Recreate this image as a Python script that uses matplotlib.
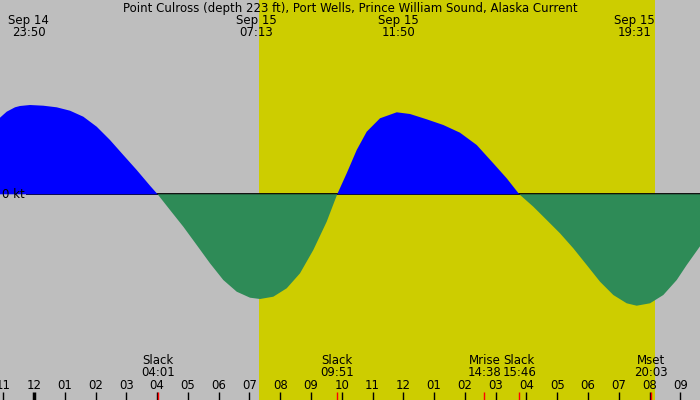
import numpy as np
import matplotlib.pyplot as plt
import matplotlib.transforms as mtransforms

# hours after Sep 15 00:00, current in knots (flood +, ebb -)
hours = [-1.105, -0.887, -0.617, -0.455, -0.13, 0.302, 0.737, 1.17, 1.602, 2.037, 2.469, 2.901,
         3.337, 3.769, 4.017,
         4.419, 4.851, 5.286, 5.718, 6.15, 6.586, 7.018, 7.343, 7.775, 8.21, 8.642, 9.074, 9.509,
         9.85,
         10.159, 10.484, 10.809, 11.241, 11.784, 12.216, 12.758, 13.298, 13.84, 14.383, 14.922,
         15.357, 15.767,
         16.222, 16.657, 17.089, 17.521, 17.957, 18.389, 18.821, 19.256, 19.581, 20.013, 20.445,
         20.881, 21.205, 21.637]
speed = [0.766, 0.826, 0.870, 0.883, 0.893, 0.886, 0.870, 0.836, 0.776, 0.676, 0.543, 0.393,
         0.243, 0.086, 0.0,
         -0.157, -0.324, -0.507, -0.690, -0.857, -0.974, -1.034, -1.047, -1.024, -0.940, -0.790,
         -0.557, -0.274,
         0.0,
         0.210, 0.443, 0.626, 0.760, 0.820, 0.803, 0.750, 0.693, 0.616, 0.493, 0.310,
         0.160, 0.0,
         -0.124, -0.257, -0.390, -0.540, -0.707, -0.874, -1.007, -1.090, -1.114, -1.090, -1.007,
         -0.857, -0.707, -0.520]

sunrise = 7.32
sunset = 20.19

peak_hours = [-0.17, 7.217, 11.83, 19.517]
peak_labels = ["Sep 14\n23:50", "Sep 15\n07:13", "Sep 15\n11:50", "Sep 15\n19:31"]

event_hours = [4.017, 9.85, 14.633, 15.767, 20.05]
event_labels = ["Slack\n04:01", "Slack\n09:51", "Mrise\n14:38", "Slack\n15:46", "Mset\n20:03"]

tick_hours = list(range(-1, 22))
tick_labels = ["%02d" % ((h - 1) % 12 + 1) for h in tick_hours]

title = "Point Culross (depth 223 ft), Port Wells, Prince William Sound, Alaska Current"

gray = "#bebebe"
yellow = "#cdcd00"
blue = "#0000ff"
green = "#2e8b57"

fig = plt.figure(figsize=(7, 4), dpi=100, facecolor=gray)
ax = fig.add_axes([0, 0, 1, 1])
ax.set_xlim(-1.1046, 21.637)
ax.set_ylim(-2.057, 1.943)
ax.axis("off")

ax.axvspan(sunrise, sunset, color=yellow, lw=0, zorder=0)

t = np.array(hours)
v = np.array(speed)
ax.hlines(0, -0.26, 21.7, color="black", lw=1.3, zorder=1)
ax.fill_between(t, 0, v, where=v >= 0, color=blue, lw=0, zorder=2)
ax.fill_between(t, 0, v, where=v <= 0, color=green, lw=0, zorder=3)

ax.text(-1.04, 0, "0 kt", fontsize=8.5, ha="left", va="center", zorder=4)

trans = mtransforms.blended_transform_factory(ax.transData, ax.transAxes)
ax.text(0.5, 0.995, title, transform=ax.transAxes, fontsize=8.5, ha="center", va="top")

for h, lab in zip(peak_hours, peak_labels):
    ax.text(h, 0.965, lab, transform=trans, fontsize=8.5, ha="center", va="top",
            linespacing=0.95)

for h, lab in zip(event_hours, event_labels):
    ax.text(h, 0.052, lab, transform=trans, fontsize=8.5, ha="center", va="bottom",
            linespacing=0.95)

for h, lab in zip(tick_hours, tick_labels):
    ax.text(h, 0.037, lab, transform=trans, fontsize=8.5, ha="center", va="center")
    ax.plot([h, h], [0, 0.02], transform=trans, color="black",
            lw=2.5 if h == 0 else 1, solid_capstyle="butt", zorder=5)

for h in event_hours:
    ax.plot([h, h], [0, 0.02], transform=trans, color="red", lw=1,
            solid_capstyle="butt", zorder=6)

fig.savefig("out.png", dpi=100, facecolor=gray)
